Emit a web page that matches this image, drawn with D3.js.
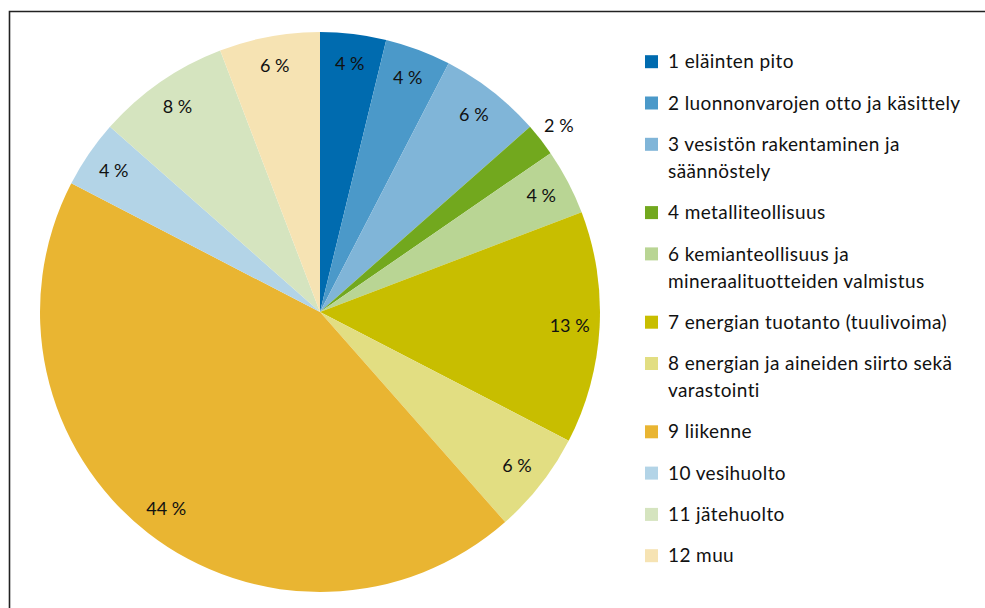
<!DOCTYPE html>
<html lang="fi">
<head>
<meta charset="UTF-8">
<title>Pie</title>
<style>
html,body{margin:0;width:985px;height:608px;overflow:hidden;background:#fff;font-family:Lato, "Open Sans", sans-serif;}
svg{display:block;}
</style>
</head>
<body>
<svg width="985" height="608"></svg>
<script src="https://d3js.org/d3.v7.min.js"></script>
<script>
const categories = [
  "1 eläinten pito",
  "2 luonnonvarojen otto ja käsittely",
  "3 vesistön rakentaminen ja\nsäännöstely",
  "4 metalliteollisuus",
  "6 kemianteollisuus ja\nmineraalituotteiden valmistus",
  "7 energian tuotanto (tuulivoima)",
  "8 energian ja aineiden siirto sekä\nvarastointi",
  "9 liikenne",
  "10 vesihuolto",
  "11 jätehuolto",
  "12 muu"
];
const values = [3.8, 3.8, 5.9, 1.9, 3.8, 13.4, 5.9, 44.1, 3.9, 7.7, 5.8];
const colors = ["#006baf","#4b99c9","#80b5d8","#72a81e","#b9d594","#c8be00","#e2de82","#e9b532","#b3d4e7","#d5e4bf","#f6e3b3"];
const outsideLabel = [false,false,false,true,false,false,false,false,false,false,false];

const svg = d3.select("svg");
const W = 985, H = 608;
const cx = 320, cy = 312, R = 280;

// frame
svg.append("path")
  .attr("d", `M9.5,${H} L9.5,11.5 L${W},11.5`)
  .attr("fill","none").attr("stroke","#222").attr("stroke-width",1.6);

const pie = d3.pie().sort(null).value(d=>d)(values);
const arc = d3.arc().innerRadius(0).outerRadius(R);
const lblArc = d3.arc().innerRadius(250).outerRadius(250);
const outArc = d3.arc().innerRadius(303).outerRadius(303);

const g = svg.append("g").attr("transform",`translate(${cx},${cy})`);
g.selectAll("path.slice").data(pie).join("path")
  .attr("class","slice")
  .attr("d",arc)
  .attr("fill",(d,i)=>colors[i]);

g.selectAll("text.pct").data(pie).join("text")
  .attr("class","pct")
  .attr("transform",(d,i)=>`translate(${(outsideLabel[i]?outArc:lblArc).centroid(d)})`)
  .attr("text-anchor","middle")
  .attr("dy","0.35em")
  .style("font-size","18px")
  .attr("fill","#111")
  .text(d=>Math.round(d.data)+" %");

// legend
const legend = svg.append("g").attr("transform","translate(645,0)");
const lineH = 27, gap = 41.3;
let y = 61.7;
categories.forEach((c,i)=>{
  const lines = c.split("\n");
  const it = legend.append("g").attr("transform",`translate(0,${y})`);
  it.append("rect").attr("x",0).attr("y",-6.5).attr("width",13).attr("height",13).attr("fill",colors[i]);
  const t = it.append("text")
    .style("font-size","19px").style("letter-spacing","0.4px").attr("fill","#111");
  lines.forEach((l,k)=>t.append("tspan").attr("x",23).attr("y",k*lineH).attr("dy","0.35em").text(l));
  y += (lines.length-1)*lineH + gap;
});
</script>
</body>
</html>
